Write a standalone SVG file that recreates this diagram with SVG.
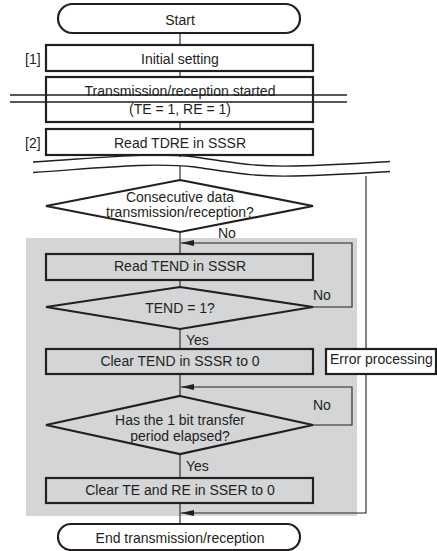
<svg xmlns="http://www.w3.org/2000/svg" width="437" height="551" viewBox="0 0 437 551">
<defs>
<marker id="ah" markerWidth="13" markerHeight="6" refX="13" refY="3" orient="auto" markerUnits="userSpaceOnUse">
<path d="M0,0 L13,3 L0,6 Z" fill="#231f20"/>
</marker>
<style>
text{font-family:"Liberation Sans",Arial,sans-serif;font-size:14px;fill:#231f20}
.c{text-anchor:middle}
.box{fill:#fff;stroke:#231f20;stroke-width:2.2}
.gbox{fill:none;stroke:#231f20;stroke-width:2.2}
.ln{fill:none;stroke:#231f20;stroke-width:1.1}
.brk{fill:none;stroke:#231f20;stroke-width:1.4}
</style>
</defs>
<rect x="26" y="238" width="331" height="278" fill="#d4d5d7"/>
<g id="connectors">
<path class="ln" d="M180,33 V45 M180,71 V77 M180,122 V129 M180,155 V157 M180,166 V180 M180,232 V254 M180,280 V287 M180,329 V349 M180,374 V396 M180,454 V478 M180,503 V524"/>
<path class="ln" d="M313,307 H352 V243 H181" marker-end="url(#ah)"/>
<path class="ln" d="M313,425 H352 V387 H181" marker-end="url(#ah)"/>
<path class="ln" d="M366,176 V513 H181" marker-end="url(#ah)"/>
</g>
<g id="breaks">
<path class="brk" d="M33,162 C100,158 150,152 195,157 C235,163 255,167 295,166 C335,165 365,163 390,161.5"/>
<path class="brk" d="M33,172.5 C100,168 150,162 195,167 C235,173 255,177 295,176 C335,175 365,173 390,171.5"/>
</g>
<g id="start">
<rect class="box" x="58" y="4" width="242" height="29" rx="14.5"/>
<text class="c" x="180" y="25">Start</text>
</g>
<g id="initial">
<rect class="box" x="46" y="45" width="267" height="26"/>
<text class="c" x="180" y="64">Initial setting</text>
<text x="25" y="64">[1]</text>
</g>
<g id="started">
<rect class="box" x="46" y="77" width="267" height="45"/>
<text class="c" x="180" y="95.5">Transmission/reception started</text>
<text class="c" x="180" y="114">(TE = 1, RE = 1)</text>
<path d="M10,95 H347 M10,102 H347" stroke="#231f20" stroke-width="1.6" fill="none"/>
</g>
<g id="readtdre">
<rect class="box" x="46" y="129" width="267" height="26"/>
<text class="c" x="180" y="147.5">Read TDRE in SSSR</text>
<text x="25" y="147.5">[2]</text>
</g>
<g id="consecutive">
<path class="box" d="M180,180 L313,206 L180,232 L46,206 Z"/>
<text class="c" x="180" y="201.5">Consecutive data</text>
<text class="c" x="180" y="216.5">transmission/reception?</text>
<text x="218" y="238">No</text>
</g>
<g id="readtend">
<rect class="gbox" x="46" y="254" width="267" height="26"/>
<text class="c" x="180" y="271">Read TEND in SSSR</text>
</g>
<g id="tend">
<path class="gbox" d="M180,287 L313,307 L180,329 L46,307 Z"/>
<text class="c" x="180" y="313">TEND = 1?</text>
<text x="313" y="300">No</text>
<text x="186" y="345">Yes</text>
</g>
<g id="cleartend">
<rect class="gbox" x="46" y="349" width="267" height="25"/>
<text class="c" x="180" y="366">Clear TEND in SSSR to 0</text>
</g>
<g id="error">
<rect class="box" x="326" y="349" width="110" height="25"/>
<text x="330" y="363.5">Error processing</text>
</g>
<g id="elapsed">
<path class="gbox" d="M180,396 L313,425 L180,454 L46,425 Z"/>
<text class="c" x="180" y="425">Has the 1 bit transfer</text>
<text class="c" x="180" y="441">period elapsed?</text>
<text x="313" y="410">No</text>
<text x="186" y="471">Yes</text>
</g>
<g id="clearte">
<rect class="gbox" x="46" y="478" width="267" height="25"/>
<text class="c" x="180" y="495">Clear TE and RE in SSER to 0</text>
</g>
<g id="end">
<rect class="box" x="58" y="524" width="242" height="26" rx="13"/>
<text class="c" x="180" y="543">End transmission/reception</text>
</g>
</svg>
